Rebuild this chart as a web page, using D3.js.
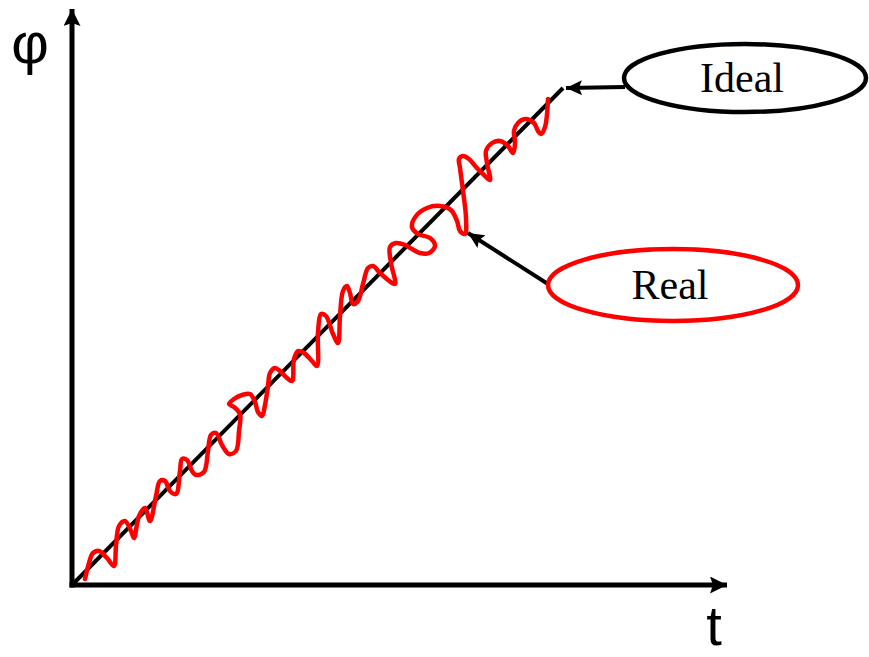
<!DOCTYPE html>
<html>
<head>
<meta charset="utf-8">
<script src="https://cdn.jsdelivr.net/npm/d3@7"></script>
<style>
  body { margin: 0; background: #fff; }
  svg { display: block; }
</style>
</head>
<body>
<svg id="chart" width="869" height="657"></svg>
<script>
// values (arbitrary units, no ticks on the original)
const idealT = [0, 491];
const idealPhi = [0, 497];

const realT = [13, 17, 21, 27, 35, 42, 44, 47, 53, 59, 62, 67, 73, 78, 84, 88, 93, 98, 104, 108,
  110, 115, 120, 124, 132, 136, 139, 144, 150, 157, 164, 167, 168, 162, 157, 162, 170, 178, 183, 186,
  190, 193, 196, 198, 203, 208, 215, 220, 222, 226, 232, 240, 245, 246, 249, 254, 261, 266, 268, 271,
  275, 278, 281, 286, 291, 296, 301, 308, 316, 323, 319, 318, 324, 333, 340, 348, 357, 363, 358, 346,
  340, 344, 355, 368, 379, 385, 388, 393, 394, 391, 388, 387, 391, 397, 404, 412, 418, 415, 414, 420,
  428, 436, 441, 443, 442, 446, 453, 462, 466, 469, 473, 476];
const realPhi = [6, 22, 32, 34, 27, 19, 39, 59, 64, 54, 47, 69, 77, 64, 89, 104, 104, 94, 91, 114,
  126, 125, 114, 110, 113, 134, 150, 152, 140, 131, 134, 154, 171, 178, 181, 186, 190, 191, 183, 173,
  169, 180, 199, 212, 217, 214, 207, 204, 226, 234, 232, 224, 219, 252, 271, 269, 251, 242, 269, 294,
  299, 292, 281, 284, 301, 317, 319, 312, 305, 301, 322, 338, 342, 340, 336, 332, 332, 339, 347, 351,
  358, 369, 377, 379, 375, 364, 354, 351, 367, 394, 417, 426, 429, 426, 418, 410, 405, 422, 434, 442,
  444, 439, 432, 442, 454, 462, 466, 462, 454, 451, 458, 486];

// callouts: label, ellipse centre, arrow start -> arrow tip
const labels = ["Ideal", "Real"];
const labelT = [673, 601];
const labelPhi = [507, 300];
const arrowFromT = [553, 476];
const arrowFromPhi = [498, 301];
const arrowToT = [494, 396];
const arrowToPhi = [497, 352];

const svg = d3.select("#chart");

const x = d3.scaleLinear().domain([0, 655]).range([72, 727]);
const y = d3.scaleLinear().domain([0, 574]).range([585, 11]);

const defs = svg.append("defs");
function marker(id, w, h) {
  defs.append("marker")
    .attr("id", id)
    .attr("viewBox", "0 0 " + w + " " + h)
    .attr("refX", w).attr("refY", h / 2)
    .attr("markerWidth", w).attr("markerHeight", h)
    .attr("markerUnits", "userSpaceOnUse")
    .attr("orient", "auto")
    .append("path")
    .attr("d", "M0,0L" + w + "," + (h / 2) + "L0," + h + "L3," + (h / 2) + "Z")
    .attr("fill", "black");
}
marker("axisHead", 17, 17);
marker("callHead", 16, 15);

// axes
svg.append("line")
  .attr("x1", x(0)).attr("y1", y(0) + 2.5).attr("x2", x(0)).attr("y2", y(574) - 2)
  .attr("stroke", "black").attr("stroke-width", 5)
  .attr("marker-end", "url(#axisHead)");
svg.append("line")
  .attr("x1", x(0) - 2.5).attr("y1", y(0)).attr("x2", x(655)).attr("y2", y(0))
  .attr("stroke", "black").attr("stroke-width", 5)
  .attr("marker-end", "url(#axisHead)");

svg.append("text").text("φ")
  .attr("x", 30).attr("y", 63).attr("text-anchor", "middle")
  .style("font-family", "Liberation Sans, Arial, sans-serif").style("font-size", "58px");
svg.append("text").text("t")
  .attr("x", 714).attr("y", 645).attr("text-anchor", "middle")
  .style("font-family", "Liberation Sans, Arial, sans-serif").style("font-size", "56px");

// ideal line
svg.append("path")
  .datum(d3.zip(idealT, idealPhi))
  .attr("fill", "none").attr("stroke", "black").attr("stroke-width", 4)
  .attr("d", d3.line().x(d => x(d[0])).y(d => y(d[1])));

// real line
svg.append("path")
  .datum(d3.zip(realT, realPhi))
  .attr("fill", "none").attr("stroke", "#ff0000").attr("stroke-width", 4.5)
  .attr("stroke-linejoin", "round").attr("stroke-linecap", "round")
  .attr("d", d3.line().x(d => x(d[0])).y(d => y(d[1])).curve(d3.curveCatmullRom.alpha(0.5)));

// callouts
const ellipseColor = ["black", "#ff0000"];
const rx = [121, 125], ry = [34, 36];
labels.forEach(function(lab, i) {
  svg.append("line")
    .attr("x1", x(arrowFromT[i])).attr("y1", y(arrowFromPhi[i]))
    .attr("x2", x(arrowToT[i])).attr("y2", y(arrowToPhi[i]))
    .attr("stroke", "black").attr("stroke-width", 4)
    .attr("marker-end", "url(#callHead)");
  svg.append("ellipse")
    .attr("cx", x(labelT[i])).attr("cy", y(labelPhi[i]))
    .attr("rx", rx[i]).attr("ry", ry[i])
    .attr("fill", "white").attr("stroke", ellipseColor[i]).attr("stroke-width", 4.5);
  svg.append("text").text(lab)
    .attr("x", x(labelT[i]) - 3).attr("y", y(labelPhi[i]) + 14)
    .attr("text-anchor", "middle")
    .style("font-family", "Liberation Serif, Times New Roman, serif").style("font-size", "42px");
});
</script>
</body>
</html>
